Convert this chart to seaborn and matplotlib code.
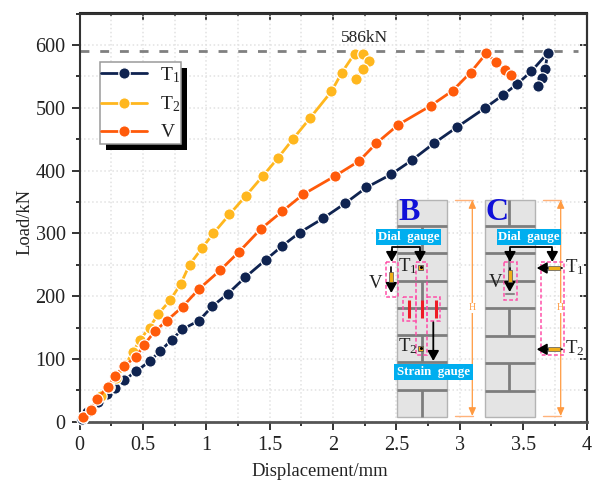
import matplotlib
matplotlib.use("Agg")
import matplotlib.pyplot as plt
import numpy as np
import pandas as pd
import seaborn as sns
from matplotlib.patches import Rectangle
from matplotlib.ticker import MultipleLocator, FixedFormatter, FixedLocator
from matplotlib.transforms import Affine2D

t1_disp = [0.02, 0.06, 0.148, 0.214, 0.28, 0.35, 0.445, 0.553, 0.634, 0.726, 0.81, 0.943, 1.049, 1.172, 1.308,
           1.471, 1.6, 1.736, 1.923, 2.098, 2.264, 2.46, 2.62, 2.794, 2.978, 3.196, 3.34, 3.455, 3.565, 3.694,
           3.673, 3.65, 3.618]
t1_load = [5, 15, 32, 44, 54, 66, 80, 96, 112, 130, 147, 161, 184, 204, 230,
           258, 280, 301, 324, 348, 373, 394, 416, 443, 469, 499, 520, 538, 558, 587,
           561, 548, 535]
t2_disp = [0.03, 0.088, 0.169, 0.23, 0.29, 0.36, 0.421, 0.476, 0.553, 0.623, 0.714, 0.8, 0.868, 0.965, 1.057, 1.183,
           1.314, 1.45, 1.566, 1.684, 1.817, 1.988, 2.07, 2.17, 2.235, 2.285, 2.235, 2.182]
t2_load = [8, 21, 41, 56, 70, 90, 111, 130, 150, 172, 193, 220, 250, 276, 300, 330,
           360, 392, 420, 450, 483, 526, 556, 586, 585, 575, 561, 545]
v_disp = [0.03, 0.088, 0.14, 0.222, 0.28, 0.35, 0.445, 0.508, 0.594, 0.689, 0.813, 0.941, 1.109, 1.261, 1.431, 1.6,
          1.765, 2.014, 2.206, 2.34, 2.516, 2.77, 2.943, 3.085, 3.211, 3.285, 3.356, 3.403]
v_load = [7, 19, 36, 56, 72, 89, 103, 122, 144, 161, 183, 211, 241, 271, 307, 335,
          362, 391, 415, 443, 473, 503, 527, 556, 587, 572, 560, 552]
peak_load = 589.5
peak_label = "586kN"
x_ticks = [0, 0.5, 1, 1.5, 2, 2.5, 3, 3.5, 4]
x_labels = ["0", "0.5", "1", "1.5", "2", "2.5", "3", "3.5", "4"]
y_ticks = [0, 100, 200, 300, 400, 500, 600]

NAVY, YEL, ORG = "#0f2350", "#ffb71e", "#ff5a0a"
SERIF = "Liberation Serif"

sns.set_theme(style="ticks")
plt.rcParams.update({
    "font.family": [SERIF, "DejaVu Serif"],
    "mathtext.fontset": "custom",
    "mathtext.rm": SERIF,
    "mathtext.it": SERIF,
    "mathtext.bf": SERIF,
    "mathtext.default": "rm",
    "text.color": "#222222",
})

W, H = 595, 488
fig = plt.figure(figsize=(W / 100, H / 100), dpi=100)
L, R, T, B = 79.5, 586.5, 13.5, 421.7
ax = fig.add_axes([L / W, 1 - B / H, (R - L) / W, (B - T) / H])
px = Affine2D().scale(1, -1).translate(0, H)

df = pd.concat([
    pd.DataFrame({"Displacement": t1_disp, "Load": t1_load, "Series": "T$_1$"}),
    pd.DataFrame({"Displacement": t2_disp, "Load": t2_load, "Series": "T$_2$"}),
    pd.DataFrame({"Displacement": v_disp, "Load": v_load, "Series": "V"}),
])
for name, color in zip(["T$_1$", "T$_2$", "V"], [NAVY, YEL, ORG]):
    sns.lineplot(data=df[df["Series"] == name], x="Displacement", y="Load", sort=False, estimator=None,
                 color=color, lw=2.0, marker="o", ms=8.2, mec="white", mew=0.9, label=name, ax=ax, zorder=3,
                 clip_on=False)

ax.axhline(peak_load, xmin=0, xmax=(578 - L) / (R - L), color="#808080", lw=2.0, dashes=(3.2, 3.9), zorder=2)
ax.text(2.25, 611, peak_label, ha="center", va="center", fontsize=12.5)

ax.set_xlim(0, 4)
ax.set_ylim(0, 650)
ax.xaxis.set_major_locator(FixedLocator(x_ticks))
ax.xaxis.set_major_formatter(FixedFormatter(x_labels))
ax.xaxis.set_minor_locator(MultipleLocator(0.25))
ax.yaxis.set_major_locator(FixedLocator(y_ticks))
ax.yaxis.set_minor_locator(MultipleLocator(50))
ax.set_xlabel("Displacement/mm", fontsize=13.4, color="#222222")
ax.set_ylabel("Load/kN", fontsize=13.4, color="#222222")
ax.xaxis.set_label_coords(320, 488 - 471, transform=matplotlib.transforms.IdentityTransform())
ax.yaxis.set_label_coords(25, 488 - 222, transform=matplotlib.transforms.IdentityTransform())
ax.xaxis.label.set_va("center")
ax.yaxis.label.set_va("center")
ax.grid(True, which="both", color="#e2e2e2", ls=":", lw=1.1, zorder=0)
ax.set_axisbelow(True)
for s in ax.spines.values():
    s.set_linewidth(1.5)
    s.set_color("#333333")
ax.spines["bottom"].set_color("#555555")
ax.spines["bottom"].set_linewidth(2)
ax.tick_params(which="major", axis="both", direction="out", length=6, width=1.4, labelsize=14.5,
               color="#333333", labelcolor="#222222", pad=4)
ax.tick_params(which="minor", axis="both", direction="out", length=3, width=1.4, color="#333333")
sec_x = ax.secondary_xaxis("top")
sec_x.set_xticks(x_ticks)
sec_x.set_xticks(np.arange(0.25, 4, 0.5), minor=True)
sec_x.tick_params(which="major", direction="in", length=5, width=1.4, labeltop=False, color="#333333")
sec_x.tick_params(which="minor", direction="in", length=2.5, width=1.4, color="#333333")
sec_x.set_xticklabels([])
sec_x.spines["top"].set_linewidth(1.5)
sec_y = ax.secondary_yaxis("right")
sec_y.set_yticks(y_ticks)
sec_y.set_yticks(np.arange(50, 650, 100), minor=True)
sec_y.tick_params(which="major", direction="in", length=5, width=1.4, labelright=False, color="#333333")
sec_y.tick_params(which="minor", direction="in", length=2.5, width=1.4, color="#333333")
sec_y.set_yticklabels([])
sec_y.spines["right"].set_linewidth(1.5)

# legend with a hard shadow
ax.add_patch(Rectangle((105.5, 67.5), 81.5, 82.5, transform=px, fc="black", ec="none", zorder=6, clip_on=False))
ax.add_patch(Rectangle((99.5, 61.7), 81.5, 82.5, transform=px, fc="white", ec="#9a9a9a", lw=1.1, zorder=6.5))
handles, labels = ax.get_legend_handles_labels()
leg = ax.legend(handles, labels, loc="upper left", bbox_to_anchor=(101, 65), bbox_transform=px, frameon=False,
                borderaxespad=0, borderpad=0, handlelength=2.35, handletextpad=0.7, labelspacing=0.5,
                fontsize=14, markerscale=1.0)
leg.set_zorder(7)

# overlay in image pixels for the specimen schematics
ov = fig.add_axes([0, 0, 1, 1], facecolor="none")
ov.set_xlim(0, W)
ov.set_ylim(H, 0)
ov.axis("off")

GAUGE, PINK, MORTAR, DIM, CYAN = "#f0ae18", "#ff4fa8", "#7d7d7d", "#ffb27a", "#00aeef"


def wall(x0, seams, joints):
    ov.add_patch(Rectangle((x0, 200), 49.4, 216.7, fc="#e4e4e4", ec="#b4b4b4", lw=1.0, zorder=1))
    for y in seams:
        ov.plot([x0, x0 + 49.4], [y, y], color=MORTAR, lw=2.0, zorder=2, solid_capstyle="butt")
    for xj, y0, y1 in joints:
        ov.plot([xj, xj], [y0, y1], color=MORTAR, lw=2.0, zorder=2, solid_capstyle="butt")


def dashbox(x0, y0, x1, y1):
    ov.add_patch(Rectangle((x0, y0), x1 - x0, y1 - y0, fc="none", ec=PINK, lw=1.1, ls=(0, (2.5, 1.5)), zorder=5))


def arrow(x0, y0, x1, y1, color="black", lw=1.3):
    ov.annotate("", xy=(x1, y1), xytext=(x0, y0), zorder=6,
                arrowprops=dict(arrowstyle="-|>,head_width=0.28,head_length=0.5", color=color, lw=lw,
                                shrinkA=0, shrinkB=0))


def label_box(x0, y0, x1, y1, s):
    ov.add_patch(Rectangle((x0, y0), x1 - x0, y1 - y0, fc=CYAN, ec="none", zorder=7))
    ov.text((x0 + x1) / 2, (y0 + y1) / 2, s, color="white", fontsize=9.3, fontweight="bold", ha="center",
            va="center", zorder=8)


def dim(xv, x0, x1):
    ov.plot([x0, x1], [200, 200], color=DIM, lw=1.0, zorder=3)
    ov.plot([x0, x1], [416, 416], color=DIM, lw=1.0, zorder=3)
    ov.annotate("", xy=(xv, 200), xytext=(xv, 416), zorder=3,
                arrowprops=dict(arrowstyle="<|-|>,head_width=0.18,head_length=0.4", color="#ff9a40", lw=0.9,
                                shrinkA=0, shrinkB=0))
    ov.text(xv, 308, "H", color="#ff9a40", fontsize=7, ha="center", va="center", zorder=4,
            bbox=dict(fc="white", ec="none", pad=0.6))


# panel B
wall(397.3, [225.7, 253.3, 280.7, 307.7, 335, 362.3, 390],
     [(422, 225.7, 253.3), (422, 280.7, 307.7), (422, 335, 362.3), (422, 390, 416.7)])
ov.text(409.5, 213, "B", color="#1010d8", fontsize=23, fontweight="bold", ha="center", va="center", zorder=4)
label_box(376, 228.7, 441, 245.3, "Dial  gauge")
ov.plot([391.7, 391.7, 420, 420], [256, 246.7, 246.7, 256], color="black", lw=1.3, zorder=6)
arrow(391.7, 250, 391.7, 262)
arrow(420, 250, 420, 262)
dashbox(386, 261.7, 398.3, 296.7)
ov.plot([391.3, 391.3], [267, 285], color="black", lw=1.2, zorder=5)
arrow(391.3, 281, 391.3, 293)
ov.add_patch(Rectangle((389.3, 271.7), 4, 10.5, fc=GAUGE, ec="#555555", lw=0.5, zorder=6))
dashbox(416, 261.7, 426.7, 355)
dashbox(402.7, 297.3, 416, 321)
dashbox(426.7, 297.3, 440, 321)
for xb in (409, 422, 436):
    ov.plot([xb, xb], [300, 318.3], color="#ee1c25", lw=2.2, zorder=6, solid_capstyle="butt")
for yb in (267.3, 348.3):
    ov.add_patch(Rectangle((418, yb - 2.7), 5.4, 5.4, fc=GAUGE, ec="#555555", lw=0.6, zorder=6))
    ov.plot([420.7], [yb], "o", ms=1.2, color="black", zorder=7)
ov.text(408, 266, "T$_1$", fontsize=13.5, ha="center", va="center", zorder=6)
ov.text(408, 346, "T$_2$", fontsize=13.5, ha="center", va="center", zorder=6)
ov.text(375.5, 283, "V", fontsize=13.5, ha="center", va="center", zorder=6)
arrow(433.3, 322.3, 433.3, 361)
label_box(394, 364.3, 473.3, 380, "Strain  gauge")
dim(472.3, 455, 473)

# panel C
wall(485.3, [225.7, 253.3, 280.7, 308.3, 335.7, 363.3, 391],
     [(509.3, 200, 225.7), (509.3, 253.3, 280.7), (509.3, 308.3, 335.7), (509.3, 363.3, 391)])
ov.text(497, 213, "C", color="#1010d8", fontsize=23, fontweight="bold", ha="center", va="center", zorder=4)
label_box(496.7, 228.7, 561, 245.3, "Dial  gauge")
ov.plot([510, 510, 552.3, 552.3], [256, 246.7, 246.7, 256], color="black", lw=1.3, zorder=6)
arrow(510, 250, 510, 262)
arrow(552.3, 250, 552.3, 262)
dashbox(504, 262.3, 516.7, 300)
ov.plot([509.7, 509.7], [268, 285], color="black", lw=1.2, zorder=5)
arrow(509.7, 281, 509.7, 292)
ov.plot([506, 514], [293.5, 293.5], color="#888888", lw=1.5, zorder=5)
ov.add_patch(Rectangle((507.7, 270), 4, 11.7, fc=GAUGE, ec="#555555", lw=0.5, zorder=6))
dashbox(541, 262.3, 564, 355)
for yb in (268, 349.3):
    arrow(562, yb, 536.7, yb)
    ov.add_patch(Rectangle((548.3, yb - 2), 11.7, 4, fc=GAUGE, ec="#555555", lw=0.5, zorder=7))
ov.text(495.7, 282.7, "V", fontsize=13.5, ha="center", va="center", zorder=6)
ov.text(575, 266.7, "T$_1$", fontsize=13.5, ha="center", va="center", zorder=6)
ov.text(575, 347.7, "T$_2$", fontsize=13.5, ha="center", va="center", zorder=6)
dim(560.7, 543, 561)

fig.savefig("out.png", dpi=100)
